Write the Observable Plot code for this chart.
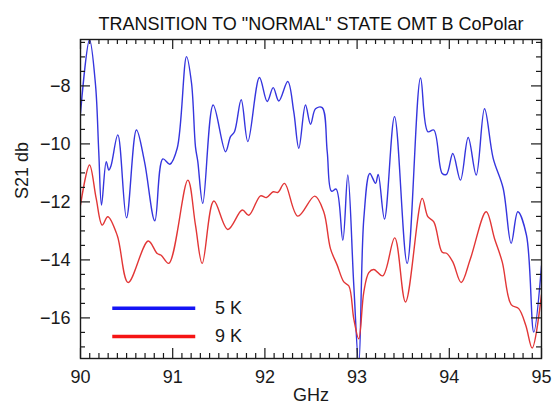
<!DOCTYPE html>
<html>
<head>
<meta charset="utf-8">
<script src="https://cdn.jsdelivr.net/npm/d3@7"></script>
<script src="https://cdn.jsdelivr.net/npm/@observablehq/plot@0.6"></script>
<style>
  html, body { margin: 0; padding: 0; background: #fff; }
  #chart svg { display: block; }
</style>
</head>
<body>
<div id="chart"></div>
<script>
const title = 'TRANSITION TO "NORMAL" STATE OMT B CoPolar';
const xLabel = "GHz";
const yLabel = "S21 db";
const seriesNames = ["5 K", "9 K"];
const xTickValues = [90, 91, 92, 93, 94, 95];
const yTickValues = [-16, -14, -12, -10, -8];

const freq5K = [90.000, 90.098, 90.163, 90.198, 90.228, 90.279, 90.307, 90.331, 90.405, 90.499,
  90.607, 90.694, 90.806, 90.893, 90.969, 91.049, 91.150, 91.204, 91.247, 91.272,
  91.326, 91.439, 91.573, 91.627, 91.670, 91.743, 91.815, 91.941, 92.025, 92.090,
  92.151, 92.248, 92.313, 92.368, 92.440, 92.495, 92.549, 92.621, 92.676, 92.722,
  92.773, 92.845, 92.899, 92.964, 93.018, 93.073, 93.138, 93.200, 93.229, 93.297,
  93.406, 93.543, 93.688, 93.767, 93.832, 93.923, 93.970, 94.038, 94.121, 94.205,
  94.292, 94.382, 94.476, 94.584, 94.671, 94.743, 94.837, 94.916, 95.000];
const s21_5K = [-8.94, -6.41, -7.97, -10.27, -12.11, -10.61, -10.90, -10.75, -9.69, -12.55,
  -9.52, -10.61, -12.65, -10.52, -10.70, -10.15, -6.99, -7.90, -10.10, -10.60,
  -12.05, -8.66, -10.27, -9.75, -9.58, -8.48, -9.92, -7.71, -8.54, -8.06,
  -8.52, -7.85, -8.89, -10.15, -8.66, -9.32, -8.79, -8.75, -10.27, -11.63,
  -11.56, -13.32, -11.07, -14.87, -17.60, -12.57, -11.02, -11.36, -11.05, -12.59,
  -9.06, -14.12, -7.73, -9.58, -9.52, -11.02, -11.05, -10.33, -11.25, -9.78,
  -11.07, -8.79, -10.50, -11.53, -13.43, -12.34, -13.15, -16.49, -14.20];

const freq9K = [90.000, 90.098, 90.170, 90.235, 90.296, 90.398, 90.517, 90.734, 90.832, 90.875,
  90.958, 91.164, 91.247, 91.320, 91.446, 91.598, 91.754, 91.826, 91.952, 92.017,
  92.090, 92.141, 92.213, 92.357, 92.541, 92.638, 92.711, 92.784, 92.856, 92.911,
  92.964, 93.018, 93.073, 93.127, 93.181, 93.278, 93.408, 93.525, 93.706, 93.767,
  93.832, 93.923, 93.970, 94.038, 94.129, 94.230, 94.400, 94.490, 94.574, 94.671,
  94.753, 94.830, 94.899, 95.000];
const s21_9K = [-12.11, -10.73, -11.88, -12.80, -12.51, -13.15, -14.78, -13.35, -13.78, -13.84,
  -14.12, -11.25, -12.80, -14.12, -11.97, -12.95, -12.28, -12.46, -11.79, -11.85,
  -11.65, -11.67, -11.36, -12.49, -11.80, -12.34, -13.61, -14.18, -14.76, -14.90,
  -16.03, -16.72, -15.10, -14.44, -14.33, -14.55, -13.24, -15.45, -11.88, -12.51,
  -12.69, -13.74, -13.77, -14.07, -14.78, -13.95, -12.34, -13.26, -14.07, -15.54,
  -15.68, -16.26, -17.04, -15.20];

const blue = "#3535de", red = "#e23636";
const W = 553, H = 410;
const mL = 80, mR = 12, mT = 39, mB = 52;
const fw = W - mL - mR, fh = H - mT - mB;
const xDomain = [90, 95], yDomain = [-17.4, -6.4];

const data5 = freq5K.map((f, i) => ({f, v: s21_5K[i]}));
const data9 = freq9K.map((f, i) => ({f, v: s21_9K[i]}));
const xMinor = d3.range(900, 951).map(d => d / 10).filter(d => !xTickValues.includes(d));
const yMinor = d3.range(-34, -12).map(d => d / 2).filter(d => !yTickValues.includes(d));

const axisColor = "#1a1a1a";
const major = 10, minor = 5;
const legend = [
  {name: seriesNames[0], color: "#1414f5", y: -15.67},
  {name: seriesNames[1], color: "#f51414", y: -16.64}
];
const fs = 17, tfs = 18;

const chart = Plot.plot({
  width: W, height: H,
  marginLeft: mL, marginRight: mR, marginTop: mT, marginBottom: mB,
  x: {domain: xDomain},
  y: {domain: yDomain},
  style: {fontFamily: "'Liberation Sans', Arial, sans-serif", fontSize: fs + "px", color: axisColor, background: "#fff"},
  marks: [
    // curves
    Plot.line(data5, {x: "f", y: "v", stroke: blue, strokeWidth: 1.4, curve: "catmull-rom", clip: true}),
    Plot.line(data9, {x: "f", y: "v", stroke: red, strokeWidth: 1.4, curve: "catmull-rom", clip: true}),
    // inward ticks
    Plot.tickY(yTickValues, {y: d => d, stroke: axisColor, strokeWidth: 1.2, insetRight: fw - major}),
    Plot.tickY(yTickValues, {y: d => d, stroke: axisColor, strokeWidth: 1.2, insetLeft: fw - major}),
    Plot.tickY(yMinor, {y: d => d, stroke: axisColor, strokeWidth: 1.2, insetRight: fw - minor}),
    Plot.tickY(yMinor, {y: d => d, stroke: axisColor, strokeWidth: 1.2, insetLeft: fw - minor}),
    Plot.tickX(xTickValues, {x: d => d, stroke: axisColor, strokeWidth: 1.2, insetTop: fh - major}),
    Plot.tickX(xTickValues, {x: d => d, stroke: axisColor, strokeWidth: 1.2, insetBottom: fh - major}),
    Plot.tickX(xMinor, {x: d => d, stroke: axisColor, strokeWidth: 1.2, insetTop: fh - minor}),
    Plot.tickX(xMinor, {x: d => d, stroke: axisColor, strokeWidth: 1.2, insetBottom: fh - minor}),
    Plot.frame({stroke: axisColor, strokeWidth: 1.4}),
    // axes labels
    Plot.axisX({ticks: xTickValues, tickFormat: d => String(d), tickSize: 0, tickPadding: 12, label: null, fontSize: tfs}),
    Plot.axisY({ticks: yTickValues, tickFormat: d => "\u2212" + String(Math.abs(d)), tickSize: 0, tickPadding: 10, label: null, fontSize: tfs}),
    Plot.text([xLabel], {frameAnchor: "bottom", dy: 42, fontSize: tfs, fill: axisColor}),
    Plot.text([yLabel], {frameAnchor: "left", dx: -58, rotate: -90, fontSize: tfs, fill: axisColor}),
    Plot.text([title], {frameAnchor: "top", dy: -22, fontSize: 18, fill: "#111"}),
    // legend
    Plot.ruleY(legend, {y: "y", x1: 90.35, x2: 91.25, stroke: "color", strokeWidth: 3.5}),
    Plot.text(legend, {y: "y", x: 91.46, text: "name", textAnchor: "start", fontSize: tfs, fill: axisColor})
  ]
});
document.getElementById("chart").append(chart);
</script>
</body>
</html>
